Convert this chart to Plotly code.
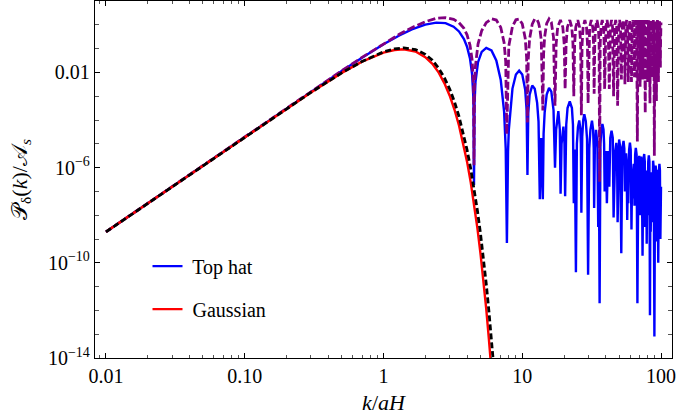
import numpy as np
import plotly.graph_objects as go

# ---------------- data (k/aH, log10 of P_delta/A_s) ----------------
# Top hat window with transfer function (blue, solid)
tophat_k = [0.01, 0.02, 0.05, 0.1, 0.2, 0.3, 0.5, 0.7, 1.0, 1.3, 1.6, 2.0, 2.4, 2.8, 3.2, 3.5, 3.8,
            4.0, 4.2, 4.35, 4.45, 4.49, 4.53, 4.6, 4.8, 5.1, 5.5, 6.0, 6.5, 7.0, 7.4, 7.6, 7.75, 7.9,
            8.0, 8.5, 9.0, 9.5, 10.0, 10.5, 10.75, 10.9, 11.05, 11.3, 11.8, 12.3, 12.8, 13.1, 13.38,
            13.7, 14.07, 14.25, 14.5, 15.0, 15.6, 16.2, 16.8, 17.22, 17.55, 18.2, 18.65, 18.89,
            19.2, 19.8, 20.15, 20.37, 20.75, 21.2, 22.0, 22.8, 23.2, 23.52, 23.94, 24.36, 24.75,
            25.2, 25.75, 26.2, 26.45, 26.67, 27.05, 27.5, 28.0, 28.7, 29.3, 29.82, 30.4, 31.0,
            31.8, 32.4, 32.75, 32.96, 33.35, 34.0, 34.8, 35.28, 35.7, 36.1, 36.6, 37.2, 37.8,
            38.5, 38.9, 39.25, 40.0, 40.73, 41.6, 42.39, 43.1, 44.0, 44.9, 45.53, 45.86, 46.19,
            46.8, 47.65, 48.2, 48.67, 49.3, 49.9, 50.8, 51.73, 52.6, 53.7, 54.4, 54.96,
            55.5, 56.0, 56.5, 57.08, 57.6, 58.1, 58.9, 59.7, 60.5, 61.25, 61.9, 62.53,
            63.1, 63.65, 64.0, 64.39, 65.1, 65.8, 66.7, 67.6, 67.75, 67.97, 68.8, 69.65, 70.2,
            70.67, 71.3, 71.85, 72.7, 73.6, 74.6, 75.65, 76.4, 76.96, 77.4, 77.85, 78.4, 78.86,
            79.5, 80.1, 80.9, 81.7, 82.5, 83.25, 83.8, 84.31, 85.0, 85.5, 86.0, 86.39, 87.0,
            87.7, 88.6, 89.6, 90.6, 91.5, 92.1, 92.68, 93.3, 93.8, 94.6, 95.5, 96.6, 97.4, 98.2,
            98.96, 100.0]
tophat_log = [-8.70, -7.50, -5.91, -4.71, -3.51, -2.81, -1.94, -1.38, -0.82, -0.45, -0.19, 0.01,
              0.09, 0.07, -0.08, -0.28, -0.60, -0.92, -1.41, -2.07, -3.13, -6.73, -3.30, -2.41,
              -1.57, -1.14, -0.97, -1.08, -1.50, -2.32, -3.65, -5.21, -9.17, -5.31, -4.42, -2.68,
              -2.09, -1.93, -2.09, -2.73, -3.59, -6.31, -3.71, -2.94, -2.55, -2.69, -3.28, -4.07,
              -7.33, -4.76, -7.33, -4.58, -3.69, -2.93, -2.65, -2.81, -3.58, -6.0, -4.4, -3.63,
              -4.4, -7.1, -5.0, -4.28, -5.0, -7.2, -4.2, -3.5, -3.22, -3.5, -4.2, -7.5, -5.24,
              -10.4, -5.0, -4.3, -4.02, -4.35, -5.0, -7.9, -4.7, -4.0, -3.76, -4.05, -4.8, -10.5,
              -5.2, -4.4, -4.03, -4.4, -5.2, -7.7, -5.2, -4.41, -5.0, -8.5, -6.26, -11.7, -5.0,
              -4.4, -4.17, -4.4, -5.0, -7.0, -5.3, -7.5, -5.3, -6.8, -4.75, -4.45, -4.75, -8.1,
              -6.82, -7.0,
              -5.3, -4.96, -5.3, -8.3, -5.1, -4.82, -5.15, -9.6, -5.2, -4.88, -5.2, -7.0,
              -5.7, -5.40, -5.7, -8.2, -6.64, -7.5, -5.25, -4.95, -5.25, -8.6, -6.30, -7.3,
              -6.1, -5.84, -6.1, -7.6, -5.45, -5.17, -5.45, -11.7, -8.3, -9.5, -5.8, -5.51, -5.8,
              -8.0, -5.8, -5.54, -5.8, -9.7, -5.7, -5.43, -5.75, -8.5, -6.4, -6.12, -6.4, -9.2,
              -6.86, -8.0, -5.75, -5.49, -5.75, -12.2, -7.12, -8.7, -6.45, -6.20, -6.45, -8.3, -5.95,
              -5.71, -6.0, -13.1, -6.2, -5.91, -6.2, -9.1, -6.35, -6.09, -6.4, -10.0, -6.1, -5.84,
              -6.1, -9.0, -6.8]

# Top hat window without transfer function (purple, dashed)
window_k = [0.01, 0.02, 0.05, 0.1, 0.2, 0.3, 0.5, 0.7, 1.0, 1.3, 1.6, 2.0, 2.4, 2.8, 3.2, 3.5, 3.8,
            4.0, 4.2, 4.35, 4.45, 4.49, 4.53, 4.6, 4.8, 5.1, 5.5, 6.0, 6.5, 7.0, 7.4, 7.6, 7.73, 7.9,
            8.0, 8.5, 9.0, 9.5, 10.0, 10.5, 10.75, 10.9, 11.05, 11.3, 11.8, 12.3, 12.8, 13.1, 13.38,
            13.7, 14.07, 14.25, 14.5, 15.0, 15.6, 16.2, 16.8, 17.22,
            17.55, 18.0, 18.85, 19.6, 20.05, 20.37,
            20.7, 21.15, 22.0, 22.75, 23.2, 23.52,
            23.85, 24.3, 25.13, 25.9, 26.35, 26.67,
            27.0, 27.45, 28.27, 29.05, 29.5, 29.81,
            30.15, 30.6, 31.42, 32.2, 32.65, 32.96,
            33.3, 33.75, 34.56, 35.35, 35.8, 36.1,
            36.45, 36.9, 37.7, 38.5, 38.95, 39.25,
            40.05, 40.84, 41.6, 42.39, 43.2, 43.98, 44.75, 45.53, 46.3, 47.12, 47.9, 48.67,
            49.5, 50.27, 51.05, 51.82, 52.6, 53.41, 54.2, 54.96, 55.75, 56.55, 57.3, 58.1,
            58.9, 59.69, 60.5, 61.25, 62.05, 62.83, 63.6, 64.39, 65.2, 65.97, 66.75, 67.53,
            68.3, 69.12, 69.9, 70.67, 71.45, 72.26, 73.05, 73.82, 74.6, 75.4, 76.2, 76.96,
            77.75, 78.54, 79.3, 80.1, 80.9, 81.68, 82.45, 83.25, 84.05, 84.82, 85.6, 86.39,
            87.2, 87.96, 88.75, 89.53, 90.3, 91.11, 91.9, 92.68, 93.45, 94.25, 95.05, 95.82,
            96.6, 97.39, 98.2, 98.96, 99.3, 100.0]
window_log = [-8.70, -7.50, -5.91, -4.71, -3.50, -2.80, -1.93, -1.37, -0.79, -0.40, -0.12, 0.13,
              0.27, 0.30, 0.23, 0.09, -0.15, -0.42, -0.85, -1.46, -2.49, -5.9, -2.64, -1.72,
              -0.81, -0.25, 0.09, 0.25, 0.20, -0.11, -0.75, -1.56, -4.6, -1.28, -0.89, -0.07,
              0.21, 0.24, 0.04, -0.56, -1.38, -4.1, -1.43, -0.58, 0.03, 0.24, 0.21, 0.08, -0.15,
              -0.64, -3.6, -1.23, -0.50, 0.06, 0.25, 0.11, -0.53, -3.4,
              -0.8, -0.1, 0.2, -0.1, -0.8, -2.7,
              -0.8, -0.1, 0.2, -0.1, -0.8, -3.0,
              -0.8, -0.1, 0.2, -0.1, -0.8, -3.8,
              -0.8, -0.1, 0.2, -0.1, -0.8, -3.3,
              -0.8, -0.1, 0.2, -0.1, -0.8, -2.9,
              -0.8, -0.1, 0.2, -0.1, -0.8, -6.6,
              -0.8, -0.1, 0.2, -0.1, -0.8, -2.7,
              -0.1, 0.2, -0.1, -2.7, -0.1, 0.2, -0.1, -3.0, -0.1, 0.2, -0.1, -3.4,
              -0.1, 0.2, -0.1, -2.3, -0.1, 0.2, -0.1, -2.5, -0.1, 0.2, -0.1, -2.4,
              -0.1, 0.2, -0.1, -2.4, -0.1, 0.2, -0.1, -2.2, -0.1, 0.2, -0.1, -4.9,
              -0.1, 0.2, -0.1, -2.6, -0.1, 0.2, -0.1, -2.3, -0.1, 0.2, -0.1, -3.7,
              -0.1, 0.2, -0.1, -2.4, -0.1, 0.2, -0.1, -3.3, -0.1, 0.2, -0.1, -2.2,
              -0.1, 0.2, -0.1, -5.5, -0.1, 0.2, -0.1, -3.2, -0.1, 0.2, -0.1, -2.4,
              -0.1, 0.2, -0.1, -1.8, -0.75, 0.1]

# Gaussian window with transfer function (red, solid)
gauss_k = [0.01, 0.03, 0.1, 0.3, 0.5, 0.7, 1.0, 1.2, 1.4, 1.7, 2.0, 2.25, 2.5, 2.75, 3.0, 3.25,
           3.5, 3.75, 4.0, 4.25, 4.5, 4.75, 5.0, 5.25, 5.5, 5.75, 5.9]
gauss_log = [-8.70, -6.80, -4.71, -2.84, -2.02, -1.55, -1.17, -1.06, -1.03, -1.12, -1.36, -1.64,
             -2.01, -2.46, -2.98, -3.57, -4.23, -4.96, -5.75, -6.61, -7.54, -8.54, -9.61, -10.74,
             -11.94, -13.22, -14.02]

# Gaussian window without transfer function (black, dashed)
gauss0_k = [0.01, 0.03, 0.1, 0.3, 0.5, 0.7, 1.0, 1.2, 1.4, 1.7, 2.0, 2.25, 2.5, 2.75, 3.0, 3.25,
            3.5, 3.75, 4.0, 4.25, 4.5, 4.75, 5.0, 5.25, 5.5, 5.75, 6.0, 6.2]
gauss0_log = [-8.70, -6.80, -4.71, -2.84, -2.02, -1.54, -1.14, -1.01, -0.97, -1.04, -1.24, -1.49,
              -1.83, -2.23, -2.70, -3.24, -3.85, -4.52, -5.25, -6.04, -6.89, -7.80, -8.77, -9.79,
              -10.88, -12.03, -13.23, -14.23]

x_tick_vals = [0.01, 0.1, 1, 10, 100]
x_tick_text = ["0.01", "0.10", "1", "10", "100"]
y_tick_vals = [1e-14, 1e-10, 1e-6, 1e-2]
y_tick_text = ["10<sup>\u221214</sup>", "10<sup>\u221210</sup>", "10<sup>\u22126</sup>", "0.01"]

# ---------------- figure ----------------
FONT = "Liberation Serif"


def pw(v):
    return np.power(10.0, np.asarray(v, dtype=float))


fig = go.Figure()
fig.add_trace(go.Scatter(x=tophat_k, y=pw(tophat_log), mode="lines", name=" Top hat",
                         legendgroup="a", line=dict(color="#0000FF", width=2.4)))
fig.add_trace(go.Scatter(x=window_k, y=pw(window_log), mode="lines", showlegend=False,
                         line=dict(color="#800080", width=2.8, dash="8px,3px")))
fig.add_trace(go.Scatter(x=gauss_k, y=pw(gauss_log), mode="lines", name=" Gaussian",
                         legendgroup="b", line=dict(color="#FF0000", width=2.4)))
fig.add_trace(go.Scatter(x=gauss0_k, y=pw(gauss0_log), mode="lines", showlegend=False,
                         line=dict(color="#000000", width=2.8, dash="6px,3px")))

minor_x = [m * 10.0 ** e for e in range(-3, 3) for m in range(2, 10)]
minor_y = [10.0 ** e for e in range(-14, 2)]

axis_common = dict(showline=True, linecolor="black", linewidth=1.4, mirror="allticks",
                   ticks="inside", ticklen=5, tickwidth=1, tickcolor="black",
                   showgrid=False, zeroline=False, automargin=False,
                   tickfont=dict(family=FONT, size=20, color="black"))

fig.update_layout(
    width=678, height=419,
    margin=dict(l=95, r=6, t=1, b=61),
    paper_bgcolor="white", plot_bgcolor="white",
    xaxis=dict(type="log", range=[-2.0792, 2.0792], tickmode="array",
               tickvals=x_tick_vals, ticktext=x_tick_text,
               minor=dict(tickmode="array", tickvals=minor_x, ticks="inside", ticklen=3,
                          tickwidth=0.8, tickcolor="#555555"),
               title=dict(text="<i>k</i>/<i>aH</i>", font=dict(family=FONT, size=22, color="black"),
                          standoff=8),
               **axis_common),
    yaxis=dict(type="log", range=[-14, 1], tickmode="array",
               tickvals=y_tick_vals, ticktext=y_tick_text,
               minor=dict(tickmode="array", tickvals=minor_y, ticks="inside", ticklen=3.5,
                          tickwidth=0.8, tickcolor="#555555"),
               title=dict(text="\U0001D4AB<sub>\u03b4</sub>(<i>k</i>)/\U0001D49C<sub><i>s</i></sub>",
                          font=dict(family=FONT, size=22, color="black"), standoff=14),
               **axis_common),
    legend=dict(x=0.091, y=0.312, xanchor="left", yanchor="top", bgcolor="rgba(0,0,0,0)",
                font=dict(family=FONT, size=20, color="black"), tracegroupgap=14,
                itemwidth=30),
    showlegend=True,
)

fig.write_html("out.html", config={"displayModeBar": False},
               post_script="document.body.style.margin='0px';")
